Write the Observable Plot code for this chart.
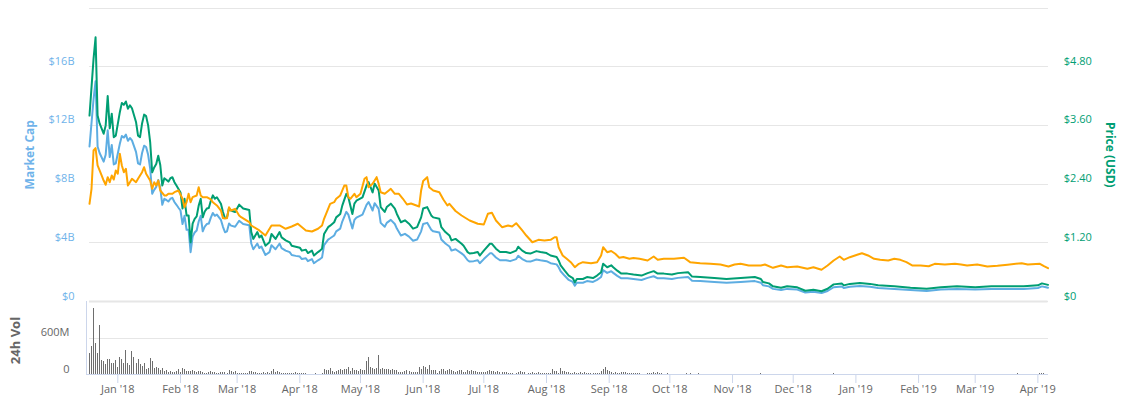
<!DOCTYPE html>
<html>
<head>
<meta charset="utf-8">
<script src="https://cdn.jsdelivr.net/npm/d3@7"></script>
<script src="https://cdn.jsdelivr.net/npm/@observablehq/plot@0.6"></script>
<style>
  html, body { margin: 0; padding: 0; background: #ffffff; }
  #chart { position: relative; width: 1123px; height: 409px; overflow: hidden; background: #ffffff; }
  #chart svg { position: absolute; left: 0; top: 0; }
</style>
</head>
<body>
<div id="chart"></div>
<script>
// ---------------- DATA ----------------
const startDate = "2017-12-18"; // day offset 0

// Price (USD) and Market Cap, sampled at these day offsets from startDate
const priceDays = [
  0,2,3,4,5,7,8,9,10,11,
  12,13,15,16,17,18,19,20,21,23,
  24,25,26,27,28,29,30,31,32,33,
  34,35,36,37,38,39,40,41,42,43,
  44,45,46,47,48,49,50,51,52,53,
  54,55,56,57,58,59,60,61,62,63,
  65,66,67,68,69,70,72,74,76,79,
  80,81,83,84,85,87,89,90,92,94,
  95,97,99,100,102,104,105,107,108,110,
  111,113,114,115,116,118,119,121,122,124,
  125,127,128,130,131,132,135,137,138,139,
  140,141,143,144,146,147,149,151,152,154,
  156,158,160,162,164,165,167,169,170,173,
  174,176,178,179,181,184,185,187,188,190,
  192,193,195,198,199,201,203,206,208,211,
  212,214,216,218,221,223,226,228,231,232,
  233,235,237,239,240,241,244,246,249,251,
  253,254,256,258,259,261,263,266,269,273,
  276,279,281,284,288,291,296,298,302,309,
  315,322,329,332,333,336,338,342,345,350,
  354,358,362,365,368,372,373,376,381,386,
  390,398,406,414,421,429,438,446,454,462,
  469,471,473,474
];
const priceUsd = [
  3.80,4.96,5.40,3.80,3.64,3.43,3.60,4.20,3.54,3.84,
  3.36,3.39,3.87,4.06,4.02,4.09,3.94,4.01,3.95,3.67,
  3.39,3.36,3.64,3.82,3.79,3.60,3.26,2.64,2.74,2.81,
  2.98,2.79,2.37,2.52,2.49,2.45,2.52,2.54,2.44,2.37,
  2.30,2.23,1.90,2.10,1.76,1.76,1.21,1.59,1.69,1.74,
  1.96,2.10,1.72,1.84,1.90,1.91,2.06,2.17,2.10,2.13,
  2.00,1.83,1.70,1.72,1.91,1.86,1.83,1.98,1.90,1.87,
  1.42,1.28,1.42,1.31,1.35,1.14,1.21,1.38,1.28,1.42,
  1.31,1.25,1.21,1.14,1.12,1.10,1.04,1.06,0.99,1.04,
  0.94,1.01,1.04,1.08,1.38,1.52,1.55,1.62,1.72,1.79,
  1.96,2.20,2.13,1.79,2.00,2.06,2.13,2.37,2.44,2.34,
  2.23,2.41,2.27,1.93,1.83,1.93,2.00,1.90,1.79,1.62,
  1.66,1.59,1.49,1.52,1.72,1.90,1.93,1.76,1.72,1.69,
  1.52,1.42,1.35,1.25,1.28,1.18,1.14,1.01,0.98,0.99,
  1.01,0.94,1.04,1.18,1.18,1.08,1.01,1.01,0.99,1.04,
  1.12,1.04,0.99,0.98,1.03,1.01,0.99,0.94,0.91,0.84,
  0.74,0.63,0.53,0.48,0.39,0.46,0.46,0.50,0.48,0.53,
  0.60,0.77,0.70,0.74,0.70,0.63,0.57,0.57,0.55,0.53,
  0.58,0.62,0.57,0.57,0.55,0.58,0.60,0.51,0.50,0.48,
  0.46,0.48,0.50,0.46,0.40,0.37,0.31,0.28,0.31,0.29,
  0.22,0.24,0.21,0.26,0.35,0.37,0.33,0.36,0.38,0.36,
  0.33,0.31,0.28,0.26,0.29,0.31,0.29,0.31,0.31,0.31,
  0.33,0.37,0.35,0.34
];
// Market cap in billions USD (same day offsets)
const marketCapB = [
  10.56,13.78,15.01,10.56,10.12,9.53,10.00,11.67,9.84,10.67,
  9.34,9.42,10.75,11.28,11.17,11.37,10.95,11.14,10.98,10.20,
  9.42,9.34,10.12,10.62,10.53,10.00,9.06,7.34,7.61,7.81,
  8.28,7.75,6.59,7.00,6.92,6.81,7.00,7.06,6.78,6.59,
  6.39,6.20,5.28,5.84,4.89,4.89,3.36,4.42,4.70,4.84,
  5.45,5.84,4.78,5.11,5.28,5.31,5.72,6.03,5.84,5.92,
  5.56,5.09,4.72,4.78,5.31,5.17,5.09,5.50,5.28,5.20,
  3.95,3.56,3.95,3.64,3.75,3.17,3.36,3.84,3.56,3.95,
  3.64,3.47,3.36,3.17,3.11,3.06,2.89,2.95,2.75,2.89,
  2.61,2.81,2.89,3.00,3.84,4.22,4.31,4.50,4.78,4.97,
  5.45,6.11,5.92,4.97,5.56,5.72,5.92,6.59,6.78,6.50,
  6.20,6.70,6.31,5.36,5.09,5.36,5.56,5.28,4.97,4.50,
  4.61,4.42,4.14,4.22,4.78,5.28,5.36,4.89,4.78,4.70,
  4.22,3.95,3.75,3.47,3.56,3.28,3.17,2.81,2.72,2.75,
  2.81,2.61,2.89,3.28,3.28,3.00,2.81,2.81,2.75,2.89,
  3.11,2.89,2.75,2.72,2.86,2.81,2.75,2.61,2.53,2.33,
  2.06,1.75,1.47,1.33,1.08,1.28,1.28,1.39,1.33,1.47,
  1.67,2.14,1.95,2.06,1.95,1.75,1.58,1.58,1.53,1.47,
  1.61,1.72,1.58,1.58,1.53,1.61,1.67,1.42,1.39,1.33,
  1.28,1.33,1.39,1.28,1.11,1.03,0.86,0.78,0.86,0.81,
  0.61,0.67,0.58,0.72,0.97,1.03,0.92,1.00,1.06,1.00,
  0.92,0.86,0.78,0.72,0.81,0.86,0.81,0.86,0.86,0.86,
  0.92,1.03,0.97,0.94
];

// Price (BTC), in satoshis, at these day offsets (hidden axis)
const btcDays = [
  0,1,2,3,4,6,7,8,9,10,
  11,12,13,14,15,16,17,18,19,20,
  21,23,24,26,27,28,30,31,32,33,
  34,35,37,38,39,41,42,44,46,47,
  48,49,50,51,53,54,55,56,58,60,
  61,63,65,66,68,69,70,72,74,75,
  79,80,84,87,90,94,97,100,103,107,
  110,113,115,116,117,119,121,122,124,126,
  127,128,129,131,132,134,136,137,138,140,
  142,143,144,146,148,149,151,153,155,157,
  159,161,163,164,165,167,168,170,173,175,
  177,178,181,184,188,192,195,197,199,201,
  204,207,209,211,214,216,219,222,225,228,
  230,231,232,234,236,238,240,242,244,248,
  251,253,254,256,258,260,262,264,267,269,
  272,276,279,281,284,289,294,297,302,307,
  312,316,319,322,326,332,334,338,342,345,
  350,355,358,362,365,368,371,373,376,380,
  382,385,388,391,395,398,401,404,407,411,
  415,418,423,428,431,434,439,444,449,454,
  461,464,470,472,474
];
const priceBtcSats = [
  16640,19200,25720,26120,23170,21470,20610,19880,21180,20320,
  21470,20780,22320,21760,25160,23170,22030,22610,19760,20320,
  20900,20320,20900,22030,22880,21760,20610,19200,20320,19760,
  20610,18910,18060,18060,18350,18350,18620,18910,17500,16070,
  16920,18350,16920,17770,18060,19470,18060,17770,17770,17380,
  16920,16360,15500,14190,14190,16070,15500,15790,14650,14360,
  13510,12950,12100,11240,12950,12950,12390,12780,13240,12100,
  11930,12390,12950,14090,14940,16640,16920,17500,18060,19760,
  19760,17770,17500,18350,17770,18350,20900,21180,19470,20050,
  21180,20050,18620,18350,18910,19200,18350,18350,17500,16530,
  16700,16440,16180,18910,20530,21180,19470,18910,18620,17380,
  16360,16640,15420,14650,13800,13240,13120,14940,15110,13800,
  12660,12950,12780,13340,12100,11240,10100,10510,10390,10510,
  10950,10950,9250,7840,7270,6700,5840,6420,6700,6530,
  6700,7840,9250,8400,8600,8130,7450,7580,7270,7410,
  7270,6990,7670,7100,7270,7270,7450,6700,6530,6420,
  6300,5960,6300,6420,6130,6130,6300,5740,6130,5840,
  5960,5570,5840,5400,6130,6990,7670,7100,7550,8010,
  8230,7840,7270,7100,6990,7270,7100,6700,6130,6130,
  6010,6420,6300,6420,6300,6130,6300,5960,6080,6250,
  6530,6300,6420,6010,5670
];

// 24h volume in millions USD, one value per day from startDate (null = no bar)
const volumeM = [
  353,454,1093,505,353,807,235,219,168,252,
  252,185,185,235,118,286,252,185,387,185,
  151,370,286,185,252,168,135,185,84,101,
  269,219,101,118,101,67,101,50,67,34,
  50,34,34,50,84,34,101,84,50,50,
  50,67,50,34,50,50,34,17,17,34,
  50,34,34,17,17,34,34,34,17,67,
  50,34,50,17,17,17,17,17,17,50,
  50,34,34,17,17,17,34,17,34,17,
  50,84,34,
  50,34,17,17,17,17,17,17,17,34,
  17,17,17,17,17,null,null,null,null,17,
  null,null,17,84,67,67,101,50,34,50,
  67,84,67,84,84,118,50,101,67,67,
  50,84,67,67,219,286,118,101,84,101,
  320,84,101,84,84,84,67,84,67,67,
  34,34,34,50,67,50,34,34,34,34,
  118,84,135,118,84,151,67,67,67,17,
  50,84,84,50,67,84,67,50,34,50,
  67,67,34,34,67,50,67,50,50,
  34,34,34,34,34,50,67,50,50,34,
  50,34,34,34,34,17,17,17,null,17,
  34,50,34,34,null,17,17,34,17,17,
  34,17,17,17,17,17,17,84,50,50,
  17,101,50,50,34,34,17,17,34,17,
  17,34,17,34,17,17,17,17,17,17,
  17,50,84,118,67,50,34,17,34,17,
  17,34,34,34,17,17,17,17,17,17,
  17,null,null,null,17,17,17,34,17,34,
  17,17,null,null,17,null,null,
  4,4,4,4,4,4,17,4,17,4,
  4,4,17,4,4,4,4,4,4,4,
  4,4,4,4,4,4,4,4,4,4,
  4,4,4,4,4,4,4,4,4,4,
  4,4,4,17,4,4,4,4,4,4,
  4,4,4,4,4,4,4,4,4,4,
  4,4,4,4,4,4,4,4,4,4,
  4,4,4,4,4,4,4,4,4,17,
  4,4,4,4,4,4,4,4,4,4,
  4,4,4,4,4,4,4,4,4,4,
  4,4,4,4,4,4,4,4,4,4,
  4,4,4,4,4,4,4,4,4,4,
  4,4,4,4,4,4,4,4,4,4,
  4,4,4,4,4,4,4,4,4,4,
  4,4,4,4,4,4,4,4,4,4,
  4,4,4,4,4,4,4,4,4,4,
  4,4,4,4,4,4,4,4,4,4,
  17,4,4,4,4,4,4,4,4,4,
  4,17,17,17,4,4
];

// Axes
const capGridB = [0, 4, 8, 12, 16, 20];
const capTicksB = [0, 4, 8, 12, 16];
const usdTicks = [0, 1.2, 2.4, 3.6, 4.8];
const volTicksM = [0, 600];
const monthTicks = ["2018-01-01","2018-02-01","2018-03-01","2018-04-01","2018-05-01","2018-06-01",
  "2018-07-01","2018-08-01","2018-09-01","2018-10-01","2018-11-01","2018-12-01",
  "2019-01-01","2019-02-01","2019-03-01","2019-04-01"];
const monthLabels = ["Jan '18","Feb '18","Mar '18","Apr '18","May '18","Jun '18",
  "Jul '18","Aug '18","Sep '18","Oct '18","Nov '18","Dec '18",
  "Jan '19","Feb '19","Mar '19","Apr '19"];

// ---------------- CHART ----------------
const W = 1123, H = 409;
const ML = 89, MR = 75.5;
const mainTop = 7.5, mainBottom = 301;
const volTop = 301, volBottom = 374;
const capColor = "#5dade2", capLabel = "#6fb3ea", usdColor = "#009e73", btcColor = "#ffa500";
const axisGray = "#666666", lineBlue = "#ccd6eb", grid = "#e6e6e6";
const font = "'Open Sans', 'DejaVu Sans', sans-serif";

const start = new Date(startDate + "T00:00:00Z");
const day = d => d3.utcDay.offset(start, d);
const xDomain = [day(0), day(474)];

const capData = priceDays.map((d, i) => ({date: day(d), cap: marketCapB[i] * 1e9}));
const usdData = priceDays.map((d, i) => ({date: day(d), price: priceUsd[i]}));
const btcData = btcDays.map((d, i) => ({date: day(d), sats: priceBtcSats[i]}));
const volData = volumeM.map((v, i) => ({date: day(i), vol: v}));
const monthDates = monthTicks.map(s => new Date(s + "T00:00:00Z"));
const monthLabelMap = new Map(monthDates.map((d, i) => [+d, monthLabels[i]]));

const base = (top, bottom) => ({
  width: W, height: H,
  marginLeft: ML, marginRight: MR, marginTop: top, marginBottom: H - bottom,
  x: {type: "utc", domain: xDomain, axis: null},
  style: {background: "transparent", fontFamily: font, fontSize: "11px", overflow: "visible"}
});

const mainSvg = Plot.plot({
  ...base(mainTop, mainBottom),
  y: {domain: [0, 20e9], axis: null},
  marks: [
    Plot.ruleY(capGridB, {y: d => d * 1e9, stroke: grid, strokeWidth: 1, shapeRendering: "crispEdges"}),
    Plot.axisY(capTicksB.map(d => d * 1e9), {
      anchor: "left", tickSize: 0, tickPadding: 15, dy: -5.5, fill: capLabel, stroke: "none",
      fontSize: 11, label: null, tickFormat: d => d === 0 ? "$0" : `$${d / 1e9}B`
    }),
    Plot.line(capData, {x: "date", y: "cap", stroke: capColor, strokeWidth: 2}),
    Plot.text(["Market Cap"], {frameAnchor: "left", dx: -59, rotate: -90, textAnchor: "middle",
      fontWeight: "bold", fontSize: 12, fill: capLabel})
  ]
});

const usdSvg = Plot.plot({
  ...base(mainTop, mainBottom),
  y: {domain: [0, 6], axis: null},
  marks: [
    Plot.line(usdData, {x: "date", y: "price", stroke: usdColor, strokeWidth: 2}),
    Plot.axisY(usdTicks, {
      anchor: "right", tickSize: 0, tickPadding: 15.8, dy: -5.5, fill: usdColor, stroke: "none",
      fontSize: 11, label: null, tickFormat: d => d === 0 ? "$0" : "$" + d.toFixed(2)
    }),
    Plot.text(["Price (USD)"], {frameAnchor: "right", dx: 62.2, rotate: 90, textAnchor: "middle",
      fontWeight: "bold", fontSize: 12, fill: usdColor})
  ]
});

const btcSvg = Plot.plot({
  ...base(mainTop, mainBottom),
  y: {domain: [0, 50000], axis: null},
  marks: [
    Plot.line(btcData, {x: "date", y: "sats", stroke: btcColor, strokeWidth: 2})
  ]
});

const volSvg = Plot.plot({
  ...base(volTop, volBottom),
  y: {domain: [0, 1200], axis: null},
  marks: [
    Plot.ruleY([600], {stroke: grid, shapeRendering: "crispEdges"}),
    Plot.ruleY([1200], {stroke: grid, strokeWidth: 2}),
    Plot.ruleX(volData, {x: "date", y1: 0, y2: "vol", stroke: "#6e6e6e", strokeWidth: 1, shapeRendering: "crispEdges"}),
    Plot.ruleY([0], {stroke: lineBlue, shapeRendering: "crispEdges"}),
    Plot.ruleY([0], {stroke: lineBlue, dx: -3, shapeRendering: "crispEdges"}),
    Plot.ruleX([day(0)], {y1: 0, y2: 1200, dx: -3, stroke: lineBlue, shapeRendering: "crispEdges"}),
    Plot.axisY(volTicksM, {
      anchor: "left", tickSize: 0, tickPadding: 20, dy: -5.5, fill: axisGray, stroke: "none",
      fontSize: 11, label: null, tickFormat: d => d === 0 ? "0" : d + "M"
    }),
    Plot.axisX(monthDates, {
      anchor: "bottom", tickSize: 9, tickPadding: 1.5, stroke: lineBlue, fill: axisGray,
      fontSize: 11, label: null, tickFormat: d => monthLabelMap.get(+d)
    }),
    Plot.text(["24h Vol"], {frameAnchor: "left", dx: -74, dy: 2.5, rotate: -90, textAnchor: "middle",
      fontWeight: "bold", fontSize: 13, fill: axisGray})
  ]
});

const chart = document.getElementById("chart");
[mainSvg, usdSvg, btcSvg, volSvg].forEach(svg => chart.appendChild(svg));
</script>
</body>
</html>
